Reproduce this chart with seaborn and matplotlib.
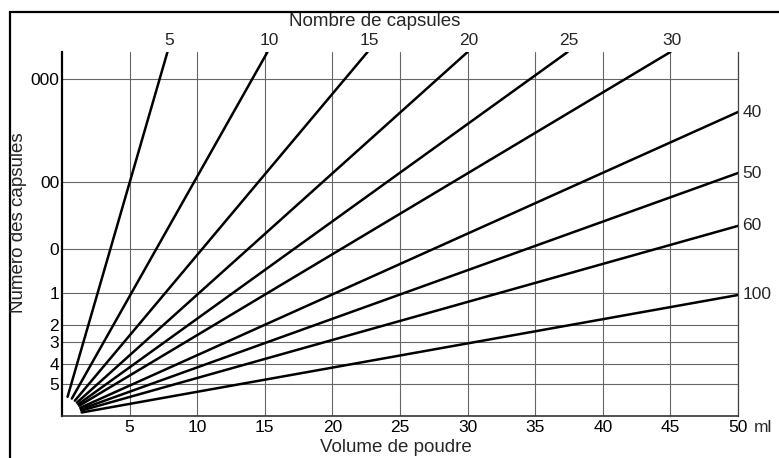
import numpy as np
import pandas as pd
import seaborn as sns
import matplotlib.pyplot as plt
from matplotlib.patches import Rectangle

# Capsule sizes (y axis) and their volume in ml
numeros = ["000", "00", "0", "1", "2", "3", "4", "5"]
volumes = [1.37, 0.95, 0.68, 0.50, 0.37, 0.30, 0.21, 0.13]

# Powder volume ticks (x axis)
poudre_ticks = [5, 10, 15, 20, 25, 30, 35, 40, 45, 50]

# Lines: number of capsules, and where each line leaves the frame
# (powder ml, capsule ml)
nombre = [5, 10, 15, 20, 25, 30, 40, 50, 60, 100]
fin_poudre = [7.8, 15.2, 22.6, 30.0, 37.4, 45.0, 50.0, 50.0, 50.0, 50.0]
fin_capsule = [1.48, 1.48, 1.48, 1.48, 1.48, 1.48, 1.236, 0.988, 0.773, 0.492]

sns.set_theme(style="white")
plt.rcParams["font.family"] = ["Liberation Sans", "DejaVu Sans"]

W, H = 779, 458
fig = plt.figure(figsize=(W / 100, H / 100), dpi=100)
left, right, top, bottom = 62, 738, 52, 416
ax = fig.add_axes([left / W, 1 - bottom / H, (right - left) / W, (bottom - top) / H])
ax.set_xlim(0, 50)
ax.set_ylim(0, 1.48)

# start each line a little away from the common origin (about 20 px)
r_px = 20
o = ax.transData.transform((0, 0))
rows = []
for n, xe, ye in zip(nombre, fin_poudre, fin_capsule):
    e = ax.transData.transform((xe, ye))
    t0 = r_px / np.hypot(*(e - o))
    rows.append({"nombre": n, "poudre": xe * t0, "capsule": ye * t0})
    rows.append({"nombre": n, "poudre": xe, "capsule": ye})
df = pd.DataFrame(rows)

sns.lineplot(data=df, x="poudre", y="capsule", units="nombre", estimator=None,
             sort=False, color="black", linewidth=1.8, ax=ax, legend=False)

# grid
ax.set_xticks(poudre_ticks, [str(v) for v in poudre_ticks])
ax.set_yticks(volumes, numeros)
ax.grid(True, color="#666666", linewidth=0.8)
ax.tick_params(axis="both", length=0, labelsize=12.5, colors="black")
ax.tick_params(axis="x", pad=3)
ax.tick_params(axis="y", pad=2)
ax.set_xlabel("")
ax.set_ylabel("")

ax.spines["top"].set_visible(False)
ax.spines["left"].set_color("black")
ax.spines["left"].set_linewidth(1.6)
ax.spines["bottom"].set_color("#333333")
ax.spines["bottom"].set_linewidth(1.2)
ax.spines["right"].set_color("#444444")
ax.spines["right"].set_linewidth(0.9)

# line labels
for n, xe, ye in zip(nombre, fin_poudre, fin_capsule):
    if xe < 50:
        ax.annotate(str(n), (xe, ye), xytext=(1, 3), textcoords="offset points",
                    ha="center", va="bottom", fontsize=12.5, annotation_clip=False)
    else:
        ax.annotate(str(n), (xe, ye), xytext=(3, 0), textcoords="offset points",
                    ha="left", va="center", fontsize=12.5, annotation_clip=False)

ax.annotate("ml", (50, 0), xytext=(16, -4), textcoords="offset pixels",
            ha="left", va="top", fontsize=12.5, annotation_clip=False)

fig.text(375 / W, 1 - 22 / H, "Nombre de capsules", ha="center", va="center", fontsize=13.5)
fig.text(396 / W, 1 - 448 / H, "Volume de poudre", ha="center", va="center", fontsize=13.5)
fig.text(19 / W, 1 - 223 / H, "Numéro des capsules", ha="center", va="center",
         rotation=90, fontsize=13.5)

# outer frame of the scan, cut at right and bottom
fig.patches.append(Rectangle((10 / W, -0.1), 1.2, 1 - 12 / H + 0.1, transform=fig.transFigure,
                             fill=False, edgecolor="black", linewidth=1.6))

fig.savefig("out.png", dpi=100)
